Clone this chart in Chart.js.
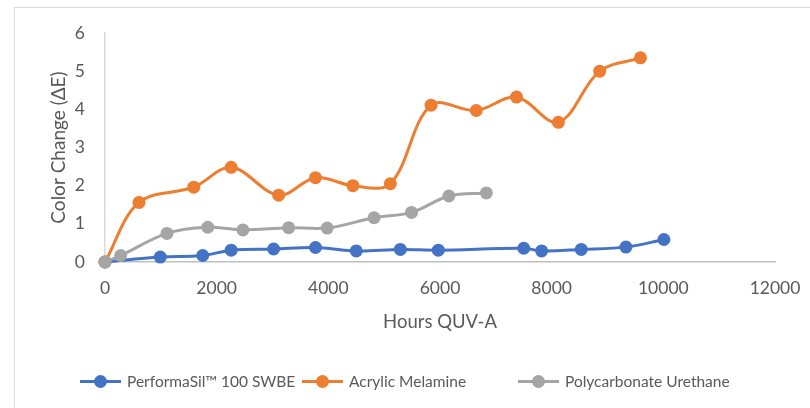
<!DOCTYPE html>
<html>
<head>
<meta charset="utf-8">
<script src="https://cdn.jsdelivr.net/npm/chart.js@4"></script>
<style>
  html, body { margin: 0; padding: 0; background: #fff; }
  #wrap { position: relative; width: 810px; height: 408px; overflow: hidden; }
  #frame { position: absolute; left: 14px; top: 7px; width: 900px; height: 500px;
           border-top: 1px solid #d9d9d9; border-left: 1px solid #d9d9d9; }
  #chart { position: absolute; left: 0; top: 0; }
  .leg { position: absolute; top: 372px; height: 18px; font-family: Lato, sans-serif;
         font-size: 15.5px; color: #595959; white-space: nowrap; }
  .leg .ln { position: absolute; left: 0; top: 8px; width: 41px; height: 3px; }
  .leg .dot { position: absolute; left: 14px; top: 3px; width: 13px; height: 13px; border-radius: 50%; }
  .leg .tx { position: absolute; left: 47px; top: 0; line-height: 18px; }
</style>
</head>
<body>
<div id="wrap">
  <div id="frame"></div>
  <canvas id="chart" width="810" height="408"></canvas>
</div>
<script>
// series names and colours
const seriesNames = ["PerformaSil\u2122 100 SWBE", "Acrylic Melamine", "Polycarbonate Urethane"];
const seriesColors = ["#4472C4", "#ED7D31", "#A5A5A5"];

// PerformaSil
const blueHours = [0, 990, 1750, 2260, 3020, 3770, 4500, 5290, 5970, 7500, 7820, 8530, 9330, 10010];
const blueVals = [0, 0.13, 0.17, 0.31, 0.34, 0.38, 0.29, 0.33, 0.31, 0.36, 0.29, 0.33, 0.39, 0.59];

// Acrylic Melamine
const orangeHours = [0, 610, 1590, 2260, 3110, 3770, 4440, 5110, 5840, 6650, 7370, 8120, 8860, 9590];
const orangeVals = [0, 1.56, 1.96, 2.48, 1.75, 2.21, 2.0, 2.05, 4.11, 3.97, 4.32, 3.66, 5.0, 5.35];

// Polycarbonate Urethane
const grayHours = [0, 280, 1110, 1840, 2470, 3290, 3980, 4820, 5490, 6160, 6830];
const grayVals = [0, 0.17, 0.75, 0.91, 0.84, 0.90, 0.89, 1.16, 1.30, 1.73, 1.81];

// axis ticks
const xTicks = [0, 2000, 4000, 6000, 8000, 10000, 12000];
const yTicks = [0, 1, 2, 3, 4, 5, 6];

const legendLeft = [80, 302, 518]; // legend item x positions

function toPoints(xs, ys) {
  return xs.map((x, i) => ({ x: x, y: ys[i] }));
}

const allSeries = [
  toPoints(blueHours, blueVals),
  toPoints(orangeHours, orangeVals),
  toPoints(grayHours, grayVals),
];

const textColor = "#595959";

const datasets = allSeries.map((pts, i) => ({
  label: seriesNames[i],
  data: pts,
  borderColor: seriesColors[i],
  backgroundColor: seriesColors[i],
  borderWidth: 3,
  pointRadius: 6.5,
  pointBorderWidth: 0,
  tension: 0.35,
  clip: false,
  order: 3 - i, // gray on top like the original
}));

new Chart(document.getElementById("chart"), {
  type: "line",
  data: { datasets: datasets },
  options: {
    responsive: false,
    animation: false,
    layout: { padding: { left: 47, top: 33, right: 35, bottom: 75 } },
    plugins: { legend: { display: false }, tooltip: { enabled: false } },
    scales: {
      x: {
        type: "linear",
        min: xTicks[0],
        max: xTicks[xTicks.length - 1],
        afterBuildTicks: (s) => { s.ticks = xTicks.map((v) => ({ value: v })); },
        afterFit: (s) => { s.height = 71; s.paddingLeft = 0; s.paddingRight = 0; },
        grid: { display: false, drawTicks: false },
        border: { display: true, color: "#bfbfbf", width: 1.5 },
        ticks: { color: textColor, font: { family: "Lato", size: 17.5 }, padding: 16, maxRotation: 0,
                 callback: (v) => String(v) },
        title: { display: true, text: "Hours QUV-A", color: textColor,
                 font: { family: "Lato", size: 18.5 }, padding: { top: 0, bottom: 0 } },
      },
      y: {
        min: yTicks[0],
        max: yTicks[yTicks.length - 1],
        afterBuildTicks: (s) => { s.ticks = yTicks.map((v) => ({ value: v })); },
        afterFit: (s) => { s.width = 58; s.paddingTop = 0; s.paddingBottom = 0; },
        grid: { display: false, drawTicks: false },
        border: { display: true, color: "#d9d9d9", width: 1.5 },
        ticks: { color: textColor, font: { family: "Lato", size: 17.5 }, padding: 20,
                 callback: (v) => String(v) },
        title: { display: true, text: "Color Change (\u0394E)", color: textColor,
                 font: { family: "Lato", size: 19 }, padding: { top: 0, bottom: 0 } },
      },
    },
  },
});

// legend under the chart
const wrap = document.getElementById("wrap");
seriesNames.forEach((name, i) => {
  const item = document.createElement("div");
  item.className = "leg";
  item.style.left = legendLeft[i] + "px";
  item.innerHTML =
    '<span class="ln" style="background:' + seriesColors[i] + '"></span>' +
    '<span class="dot" style="background:' + seriesColors[i] + '"></span>' +
    '<span class="tx"></span>';
  item.querySelector(".tx").textContent = name;
  wrap.appendChild(item);
});
</script>
</body>
</html>
